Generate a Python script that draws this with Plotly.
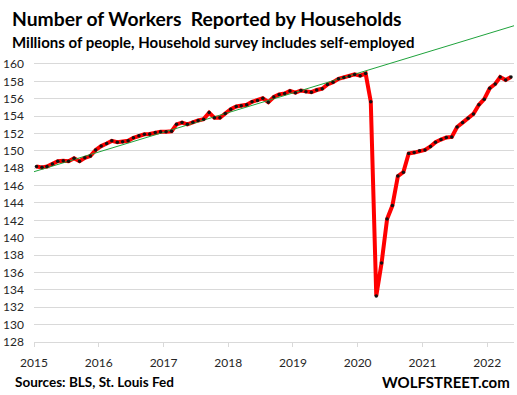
import pandas as pd
import plotly.graph_objects as go

# ---- data (millions of workers, monthly, Jan 2015 - May 2022) ----
workers = [
    148.2, 148.1, 148.2, 148.5, 148.8, 148.85, 148.8, 149.15, 148.8, 149.2, 149.4, 150.1,   # 2015
    150.55, 150.85, 151.15, 151.0, 151.05, 151.15, 151.5, 151.75, 151.9, 151.95, 152.1, 152.2,  # 2016
    152.2, 152.25, 153.05, 153.25, 153.05, 153.3, 153.5, 153.65, 154.4, 153.8, 153.8, 154.3,  # 2017
    154.8, 155.1, 155.2, 155.3, 155.65, 155.8, 156.05, 155.6, 156.2, 156.5, 156.6, 156.9,    # 2018
    156.7, 156.95, 156.8, 156.75, 157.0, 157.15, 157.65, 157.9, 158.3, 158.45, 158.6, 158.8,  # 2019
    158.65, 158.9, 155.65, 133.3, 137.1, 142.15, 143.7, 147.1, 147.55, 149.7, 149.8, 150.0,   # 2020
    150.1, 150.5, 151.0, 151.3, 151.55, 151.6, 152.75, 153.25, 153.75, 154.25, 155.3, 155.95, # 2021
    157.2, 157.7, 158.5, 158.15, 158.5,                                                      # 2022
]
months = pd.date_range("2015-01-01", periods=len(workers), freq="MS") + pd.Timedelta(days=14)

trend_dates = ["2015-01-01", "2022-06-01"]
trend_values = [147.6, 164.4]

year_ticks = [f"{y}-01-01" for y in range(2015, 2023)]
year_labels = [str(y) for y in range(2015, 2023)]
y_ticks = list(range(128, 161, 2))

title = "Number of Workers  Reported by Households"
subtitle = "Millions of people, Household survey includes self-employed"
source = "Sources: BLS, St. Louis Fed"
brand = "WOLFSTREET.com"

# ---- layout geometry ----
W, H = 517, 395
L, R, T, B = 34, 3, 24, 53
PW, PH = W - L - R, H - T - B


def px(x):
    return (x - L) / PW


def py(y):
    return (H - B - y) / PH


fig = go.Figure()
fig.add_trace(go.Scatter(
    x=months, y=workers, mode="lines",
    line=dict(color="#ff0000", width=4), hoverinfo="skip", showlegend=False,
))
fig.add_trace(go.Scatter(
    x=trend_dates, y=trend_values, mode="lines",
    line=dict(color="#1fa33c", width=1), hoverinfo="skip", showlegend=False,
))
fig.add_trace(go.Scatter(
    x=months, y=workers, mode="markers",
    marker=dict(color="#111111", size=3.5), showlegend=False,
))

tickfont = dict(family="Lato", size=12, color="#262626")
fig.update_layout(
    width=W, height=H,
    margin=dict(l=L, r=R, t=T, b=B),
    paper_bgcolor="white", plot_bgcolor="white",
    xaxis=dict(
        type="date", range=["2015-01-01", "2022-06-01"],
        tickvals=year_ticks, ticktext=year_labels,
        showgrid=False, zeroline=False,
        showline=True, linecolor="#d9d9d9", linewidth=1,
        ticks="outside", ticklen=4, tickcolor="#d9d9d9",
        tickfont=tickfont, ticklabelstandoff=6,
    ),
    yaxis=dict(
        range=[128, 164.6], tickvals=y_ticks,
        showgrid=True, gridcolor="#d9d9d9", gridwidth=1,
        zeroline=False, showline=False, ticks="",
        tickfont=tickfont, ticklabelstandoff=9,
    ),
    annotations=[
        dict(text=f"<b>{title}</b>", x=px(10), y=py(18), xref="paper", yref="paper",
             xanchor="left", yanchor="middle", showarrow=False,
             font=dict(family="Lato", size=19.3, color="#000000")),
        dict(text=f"<b>{subtitle}</b>", x=px(10), y=py(42), xref="paper", yref="paper",
             xanchor="left", yanchor="middle", showarrow=False,
             font=dict(family="Lato", size=15, color="#000000")),
        dict(text=f"<b>{source}</b>", x=px(13), y=py(382), xref="paper", yref="paper",
             xanchor="left", yanchor="middle", showarrow=False,
             font=dict(family="Lato", size=13.5, color="#000000")),
        dict(text=f"<b>{brand}</b>", x=px(512), y=py(382), xref="paper", yref="paper",
             xanchor="right", yanchor="middle", showarrow=False,
             font=dict(family="Lato", size=15, color="#000000")),
    ],
)

fig.write_html(
    "out.html",
    config={"displayModeBar": False},
    post_script="document.body.style.margin='0px';document.body.style.padding='0px';",
)
